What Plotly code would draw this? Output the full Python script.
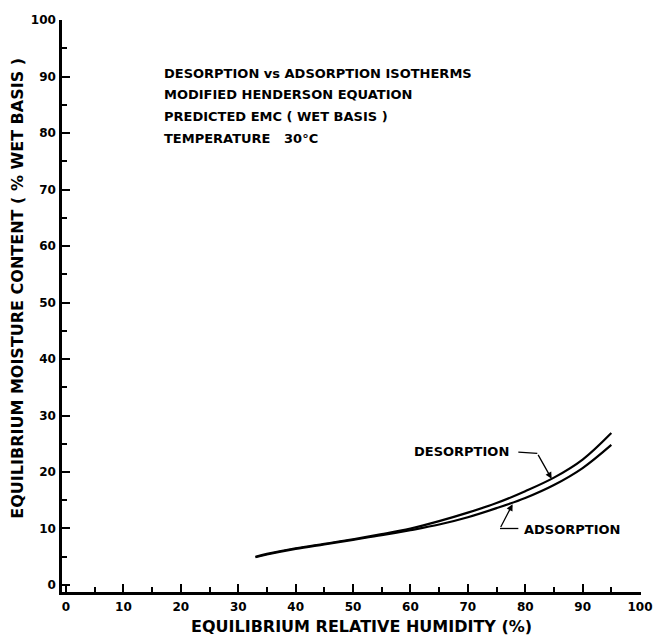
import plotly.graph_objects as go

# ---- data ----
rh = [33, 35, 40, 45, 50, 55, 60, 65, 70, 75, 80, 85, 90, 95]
desorption = [5.0, 5.5, 6.5, 7.3, 8.1, 9.0, 10.0, 11.3, 12.8, 14.5, 16.6, 19.0, 22.2, 26.9]
adsorption = [4.9, 5.4, 6.4, 7.2, 8.0, 8.8, 9.7, 10.7, 12.0, 13.6, 15.4, 17.7, 20.7, 24.8]

x_ticks = [0, 10, 20, 30, 40, 50, 60, 70, 80, 90, 100]
y_ticks = [0, 10, 20, 30, 40, 50, 60, 70, 80, 90, 100]

x_title = "EQUILIBRIUM RELATIVE HUMIDITY (%)"
y_title = "EQUILIBRIUM MOISTURE CONTENT ( % WET BASIS )"

header_lines = [
    "DESORPTION vs ADSORPTION ISOTHERMS",
    "MODIFIED HENDERSON EQUATION",
    "PREDICTED EMC ( WET BASIS )",
    "TEMPERATURE   30°C",
]

FONT = "DejaVu Sans"
INK = "black"

fig = go.Figure()
fig.add_trace(go.Scatter(x=rh, y=desorption, mode="lines", name="DESORPTION",
                         line=dict(color=INK, width=2.2, shape="spline"), showlegend=False))
fig.add_trace(go.Scatter(x=rh, y=adsorption, mode="lines", name="ADSORPTION",
                         line=dict(color=INK, width=2.2, shape="spline"), showlegend=False))

# leader lines for the labels
des_leader_x = [78.8, 82.1]
des_leader_y = [23.5, 23.3]
ads_leader_x = [78.8, 75.6]
ads_leader_y = [10.0, 10.0]
fig.add_trace(go.Scatter(x=des_leader_x, y=des_leader_y, mode="lines",
                         line=dict(color=INK, width=1.3), showlegend=False, hoverinfo="skip"))
fig.add_trace(go.Scatter(x=ads_leader_x, y=ads_leader_y, mode="lines",
                         line=dict(color=INK, width=1.3), showlegend=False, hoverinfo="skip"))

annotations = []
# arrows
annotations.append(dict(x=84.6, y=18.8, ax=82.1, ay=23.3, xref="x", yref="y",
                        axref="x", ayref="y", text="", showarrow=True,
                        arrowhead=2, arrowsize=1, arrowwidth=1.3, arrowcolor=INK))
annotations.append(dict(x=77.8, y=14.3, ax=75.6, ay=10.0, xref="x", yref="y",
                        axref="x", ayref="y", text="", showarrow=True,
                        arrowhead=2, arrowsize=1, arrowwidth=1.3, arrowcolor=INK))
# curve labels
annotations.append(dict(x=77.6, y=23.6, xref="x", yref="y", text="DESORPTION",
                        showarrow=False, xanchor="right", yanchor="middle",
                        font=dict(family=FONT, size=13, color=INK, weight="bold")))
annotations.append(dict(x=79.4, y=9.8, xref="x", yref="y", text="ADSORPTION",
                        showarrow=False, xanchor="left", yanchor="middle",
                        font=dict(family=FONT, size=13, color=INK, weight="bold")))
# header text block
for i, line in enumerate(header_lines):
    annotations.append(dict(x=16.8, y=90.6 - i * 3.85, xref="x", yref="y", text=line,
                            showarrow=False, xanchor="left", yanchor="middle",
                            font=dict(family=FONT, size=13, color=INK, weight="bold")))
# axis titles
annotations.append(dict(x=0.518, y=-0.0595, xref="paper", yref="paper", text=x_title,
                        showarrow=False, xanchor="center", yanchor="middle", borderpad=0,
                        font=dict(family=FONT, size=16, color=INK, weight="bold")))
annotations.append(dict(x=-0.076, y=0.532, xref="paper", yref="paper", text=y_title,
                        showarrow=False, xanchor="center", yanchor="middle", textangle=-90,
                        borderpad=0,
                        font=dict(family=FONT, size=16, color=INK, weight="bold")))

axis_common = dict(
    showgrid=False, zeroline=False, showline=True, linecolor=INK, linewidth=2.5,
    ticks="inside", ticklen=8, tickwidth=1.5, tickcolor=INK,
    tickfont=dict(family=FONT, size=12, color=INK, weight="bold"),
    minor=dict(ticks="inside", ticklen=5, tickwidth=1.5, tickcolor=INK, dtick=5),
    mirror=False, automargin=False,
)

fig.update_layout(
    width=655, height=636,
    margin=dict(l=62, r=14, t=20, b=44),
    paper_bgcolor="white", plot_bgcolor="white",
    font=dict(family=FONT, color=INK),
    xaxis=dict(range=[-0.7, 100.17], tickmode="array", tickvals=x_ticks,
               ticktext=[str(v) for v in x_ticks], ticklabelstandoff=2,
               **axis_common),
    yaxis=dict(range=[-1.24, 100], tickmode="array", tickvals=y_ticks,
               ticktext=[str(v) for v in y_ticks], ticklabelstandoff=1,
               **axis_common),
    annotations=annotations,
    showlegend=False,
)

fig.write_html("out.html")
